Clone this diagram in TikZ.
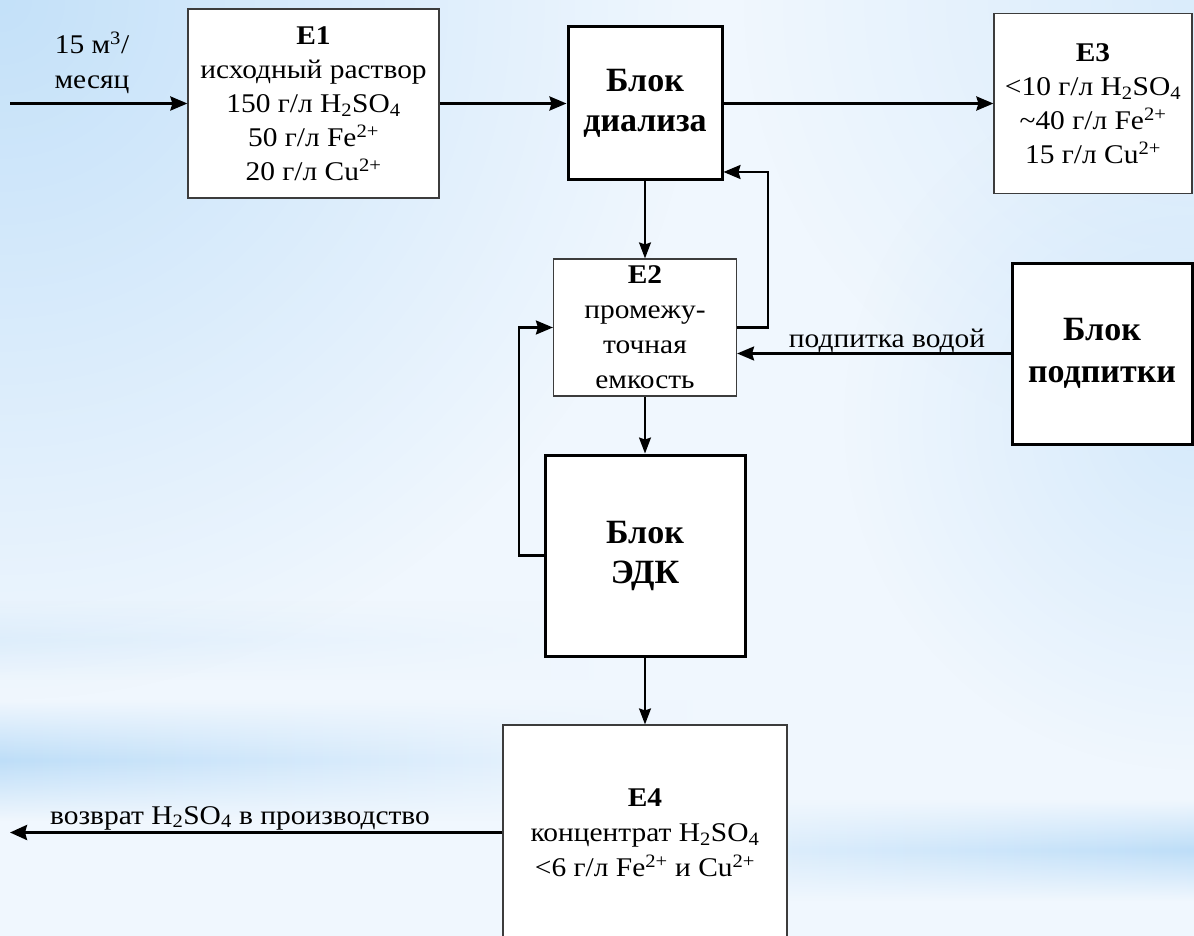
\documentclass[tikz,border=0pt]{standalone}
\usepackage{fontspec}
\setmainfont{Liberation Serif}[FakeStretch=1.09]
\newfontfamily\blockfont{Liberation Serif}
\usetikzlibrary{arrows.meta,fadings}
\definecolor{bgbase}{RGB}{240,247,254}
\definecolor{bgblue}{RGB}{196,225,249}
\definecolor{bandblue}{RGB}{190,222,248}
\definecolor{bxline}{RGB}{60,60,60}
\tikzfading[name=radfade, inner color=transparent!0, outer color=transparent!100]
\tikzfading[name=vband, top color=transparent!100, bottom color=transparent!100, middle color=transparent!0]
\tikzset{
  thinbox/.style={draw=bxline, line width=1.2pt, fill=white, align=center, inner sep=0pt, font=\fontsize{27}{34}\selectfont},
  thickbox/.style={draw=black, line width=3pt, fill=white, align=center, inner sep=0pt, font=\blockfont\fontsize{34}{40}\selectfont\bfseries},
  flow/.style={line width=2.8pt, -{Stealth[length=17pt,width=14pt,inset=2pt]}},
  tflow/.style={line width=1.6pt, -{Stealth[length=16pt,width=12pt,inset=2pt]}},
  fback/.style={line width=2.2pt, -{Stealth[length=17pt,width=14pt,inset=2pt]}},
  lbl/.style={font=\fontsize{27}{35}\selectfont, align=center, inner sep=0pt},
}
\begin{document}
\begin{tikzpicture}[x=1pt,y=-1pt]
\clip (0,0) rectangle (1194,936);
% background
\fill[bgbase] (0,0) rectangle (1194,936);
\fill[bgblue, path fading=radfade] (0,0) circle (700);
\fill[bgblue, path fading=radfade, opacity=0.5] (1194,0) circle (450);
\fill[bgblue, path fading=radfade, opacity=0.6] (1194,420) circle (350);
\shade[left color=bandblue, right color=bgbase, path fading=vband] (0,700) rectangle (700,820);
\shade[left color=bgbase, right color=bandblue, path fading=vband] (500,800) rectangle (1194,900);
\shade[left color=bandblue, right color=bgbase, path fading=vband, opacity=0.3] (0,600) rectangle (600,680);

% nodes
\node[thinbox, minimum width=251, minimum height=189] (E1) at (313.5,103.5)
  {{\bfseries E1}\\исходный раствор\\150 г/л H\textsubscript{2}SO\textsubscript{4}\\50 г/л Fe\textsuperscript{2+}\\20 г/л Cu\textsuperscript{2+}};
\node[thickbox, minimum width=154, minimum height=153] (dial) at (645,103.5) {Блок\\диализа};
\node[thinbox, minimum width=198, minimum height=180] (E3) at (1093,103.5)
  {{\bfseries E3}\\<10 г/л H\textsubscript{2}SO\textsubscript{4}\\\textasciitilde40 г/л Fe\textsuperscript{2+}\\15 г/л Cu\textsuperscript{2+}};
\node[thinbox, minimum width=183, minimum height=137, font=\fontsize{27}{35}\selectfont] (E2) at (645,327.5)
  {{\bfseries E2}\\промежу-\\точная\\емкость};
\node[thickbox, minimum width=180, minimum height=181, font=\blockfont\fontsize{34}{42}\selectfont\bfseries] (pod) at (1102,353.5) {Блок\\подпитки};
\node[thickbox, minimum width=200, minimum height=201] (edk) at (645,555.5) {Блок\\ЭДК};
\node[thinbox, minimum width=284, minimum height=215, font=\fontsize{27}{35}\selectfont] (E4) at (645,832.5)
  {{\bfseries E4}\\концентрат H\textsubscript{2}SO\textsubscript{4}\\<6 г/л Fe\textsuperscript{2+} и Cu\textsuperscript{2+}};

\coordinate (in) at (10,103.5);
\coordinate (out) at (10,832.5);
\coordinate (fb1) at (768,172);
\coordinate (fb2) at (519,327.5);

\node[lbl] (inlbl) at (92,63) {15 м\textsuperscript{3}/\\месяц};
\node[lbl, anchor=base] (podlbl) at (887,347) {подпитка водой};
\node[lbl, anchor=base] (outlbl) at (240,824) {возврат H\textsubscript{2}SO\textsubscript{4} в производство};

% connectors
\draw[flow] (in) -- (E1.west);
\draw[flow] (E1.east) -- (dial.west);
\draw[flow] (dial.east) -- (E3.west);
\draw[tflow] (dial.south) -- (E2.north);
\draw[fback] (E2.east) -| (fb1) -- (dial.east |- fb1);
\draw[fback] (pod.west) -- (E2.east |- pod.west);
\draw[tflow] (E2.south) -- (edk.north);
\draw[fback] (edk.west) -| (fb2) -- (E2.west);
\draw[tflow] (edk.south) -- (E4.north);
\draw[line width=3pt, -{Stealth[length=17pt,width=15pt,inset=2pt]}] (E4.west) -- (out);
\end{tikzpicture}
\end{document}
